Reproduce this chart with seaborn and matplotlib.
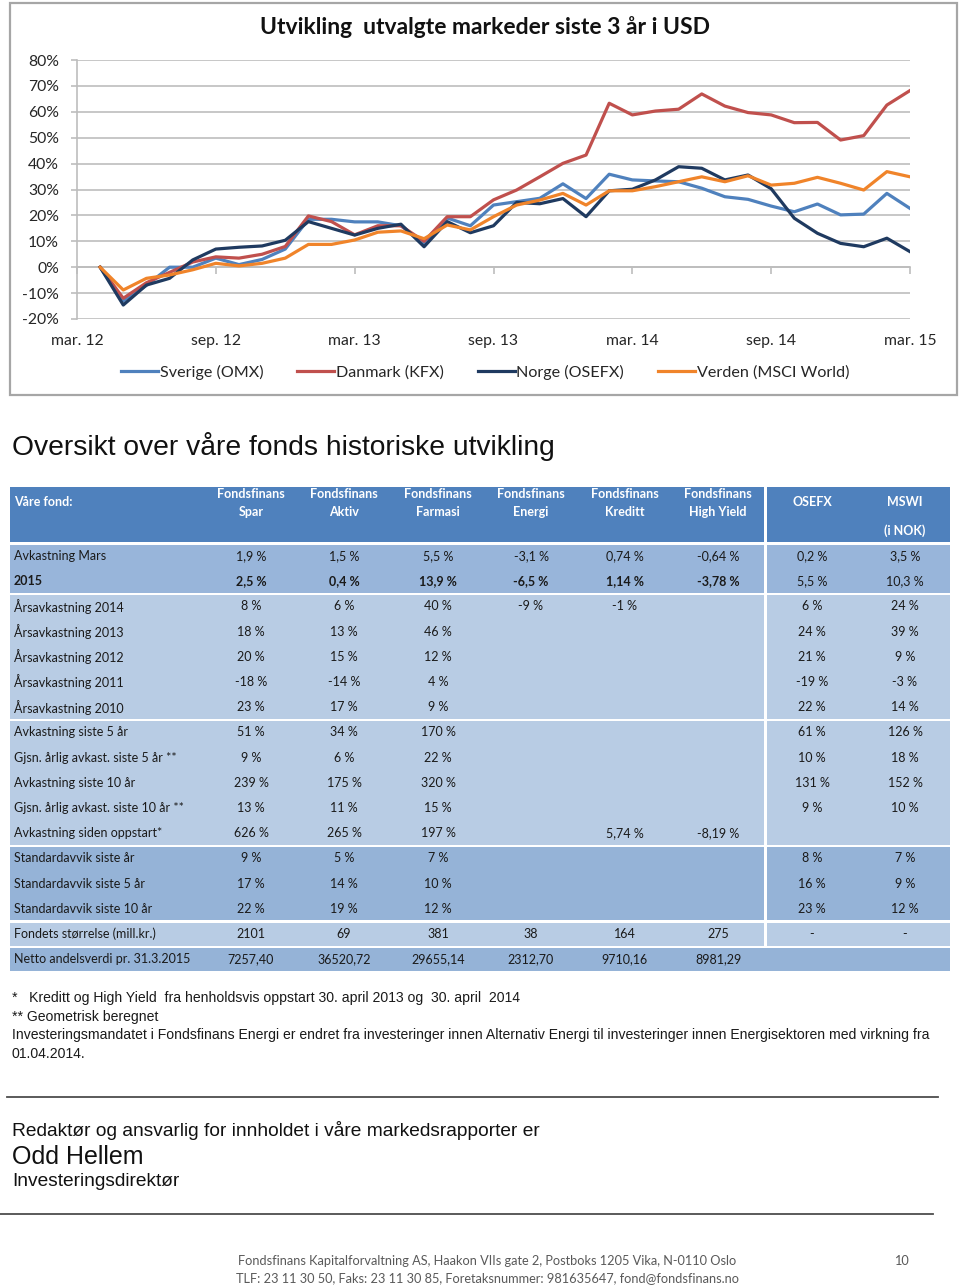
import numpy as np
import pandas as pd
import matplotlib.pyplot as plt
from matplotlib.patches import Rectangle
from matplotlib import font_manager
import seaborn as sns


# Chart data: development since mar. 12, in % (USD) ...........................

months = list(range(36))
sverige = [0, -13, -7, 0, 0, 3.5, 1, 3, 7, 18.5, 18.5, 17.5, 17.5, 16, 9, 19, 16,
           24, 25.3, 26.6, 32.2, 26.5, 35.9, 33.7, 33.3, 33, 30.5, 27.2, 26.2, 23.6,
           21.4, 24.4, 20.2, 20.5, 28.5, 22.7]
danmark = [0, -12, -6, -2, 2, 4, 3.5, 5, 8, 19.8, 17.6, 12.5, 16, 16, 10, 19.5, 19.5,
           26, 29.8, 34.9, 40.1, 43.3, 63.3, 58.8, 60.3, 61, 66.9, 62.2, 59.7, 58.8,
           55.8, 55.9, 49.1, 50.8, 62.6, 68.2]
norge = [0, -14.6, -6.9, -4.3, 2.8, 7, 7.7, 8.2, 10.4, 17.6, 15, 12.4, 15, 16.6, 7.9,
         17.6, 13.3, 16, 25, 24.5, 26.5, 19.5, 29.5, 30.1, 33.7, 38.8, 38.2, 33.7,
         35.6, 30.3, 18.9, 13.1, 9.2, 7.9, 11.2, 6.0]
verden = [0, -8.8, -4.3, -3, -1, 1.5, 0.5, 1.5, 3.5, 8.8, 8.8, 10.5, 13.5, 14, 11,
          16.3, 14.4, 19.5, 24, 25.9, 28.5, 24, 29.5, 29.5, 31.1, 33, 34.9, 33, 35.3,
          31.7, 32.4, 34.7, 32.4, 29.8, 36.9, 34.9]

markets = ["Sverige (OMX)", "Danmark (KFX)", "Norge (OSEFX)", "Verden (MSCI World)"]
market_colors = ["#4F81BD", "#C0504D", "#1F3A60", "#F0842A"]
x_ticks = [-1, 5, 11, 17, 23, 29, 35]
x_labels = ["mar. 12", "sep. 12", "mar. 13", "sep. 13", "mar. 14", "sep. 14", "mar. 15"]
y_ticks = [-20, -10, 0, 10, 20, 30, 40, 50, 60, 70, 80]


# Table data ..................................................................

fund_names = ["Spar", "Aktiv", "Farmasi", "Energi", "Kreditt", "High Yield"]
index_names = ["OSEFX", "MSWI"]
row_labels = ["Avkastning Mars", "2015", "Årsavkastning 2014", "Årsavkastning 2013",
              "Årsavkastning 2012", "Årsavkastning 2011", "Årsavkastning 2010",
              "Avkastning siste 5 år", "Gjsn. årlig avkast. siste 5 år **",
              "Avkastning siste 10 år", "Gjsn. årlig avkast. siste 10 år **",
              "Avkastning siden oppstart*", "Standardavvik siste år",
              "Standardavvik siste 5 år", "Standardavvik siste 10 år",
              "Fondets størrelse (mill.kr.)", "Netto andelsverdi pr. 31.3.2015"]
row_values = [
    ["1,9 %", "1,5 %", "5,5 %", "-3,1 %", "0,74 %", "-0,64 %", "0,2 %", "3,5 %"],
    ["2,5 %", "0,4 %", "13,9 %", "-6,5 %", "1,14 %", "-3,78 %", "5,5 %", "10,3 %"],
    ["8 %", "6 %", "40 %", "-9 %", "-1 %", "", "6 %", "24 %"],
    ["18 %", "13 %", "46 %", "", "", "", "24 %", "39 %"],
    ["20 %", "15 %", "12 %", "", "", "", "21 %", "9 %"],
    ["-18 %", "-14 %", "4 %", "", "", "", "-19 %", "-3 %"],
    ["23 %", "17 %", "9 %", "", "", "", "22 %", "14 %"],
    ["51 %", "34 %", "170 %", "", "", "", "61 %", "126 %"],
    ["9 %", "6 %", "22 %", "", "", "", "10 %", "18 %"],
    ["239 %", "175 %", "320 %", "", "", "", "131 %", "152 %"],
    ["13 %", "11 %", "15 %", "", "", "", "9 %", "10 %"],
    ["626 %", "265 %", "197 %", "", "5,74 %", "-8,19 %", "", ""],
    ["9 %", "5 %", "7 %", "", "", "", "8 %", "7 %"],
    ["17 %", "14 %", "10 %", "", "", "", "16 %", "9 %"],
    ["22 %", "19 %", "12 %", "", "", "", "23 %", "12 %"],
    ["2101", "69", "381", "38", "164", "275", "-", "-"],
    ["7257,40", "36520,72", "29655,14", "2312,70", "9710,16", "8981,29", "", ""],
]
# row blocks: (first row, last row, colour)
row_blocks = [(0, 1, "#98B5DA"), (2, 6, "#B8CCE4"), (7, 11, "#B8CCE4"),
              (12, 14, "#95B3D7"), (15, 15, "#B8CCE4"), (16, 16, "#95B3D7")]

footnotes = [
    "*   Kreditt og High Yield  fra henholdsvis oppstart 30. april 2013 og  30. april  2014",
    "** Geometrisk beregnet",
    "Investeringsmandatet i Fondsfinans Energi er endret fra investeringer innen Alternativ Energi til investeringer innen Energisektoren med virkning fra",
    "01.04.2014.",
]
footer_lines = [
    "Fondsfinans Kapitalforvaltning AS, Haakon VIIs gate 2, Postboks 1205 Vika, N-0110 Oslo",
    "TLF: 23 11 30 50, Faks: 23 11 30 85, Foretaksnummer: 981635647, fond@fondsfinans.no",
]


# Fonts .......................................................................

installed = {f.name for f in font_manager.fontManager.ttflist}
arial_like = "Liberation Sans Narrow" if "Liberation Sans Narrow" in installed else "Liberation Sans"
plt.rcParams["font.family"] = ["Lato", "DejaVu Sans"]


# Page ........................................................................

fig = plt.figure(figsize = (9.6, 12.88), dpi = 100)
page = fig.add_axes([0, 0, 1, 1])
page.set_xlim(0, 960)
page.set_ylim(1288, 0)
page.axis("off")

# Chart frame and title
page.add_patch(Rectangle((10, 3), 947, 392, fill = False, edgecolor = "#A6A6A6", linewidth = 1.6))
page.text(485, 27, "Utvikling  utvalgte markeder siste 3 år i USD", ha = "center", va = "center",
          fontsize = 16.5, fontweight = "bold", color = "#111111")


# Line chart ..................................................................

chart = pd.DataFrame({"month": months * 4,
                      "value": sverige + danmark + norge + verden,
                      "market": np.repeat(markets, len(months))})

ax = fig.add_axes([77 / 960, 1 - 319 / 1288, 833 / 960, 259 / 1288])
ax.patch.set_alpha(0)
sns.lineplot(data = chart, x = "month", y = "value", hue = "market", hue_order = markets,
             palette = market_colors, linewidth = 2.3, ax = ax)
ax.set_xlim(-1, 35)
ax.set_ylim(-20, 80)
ax.set_yticks(y_ticks, [f"{v}%" for v in y_ticks])
ax.set_xticks(x_ticks, x_labels)
ax.set_xlabel("")
ax.set_ylabel("")
ax.yaxis.grid(True, color = "#BDBDBD", linewidth = 1.2)
ax.set_axisbelow(True)
for side in ["top", "right", "bottom"]:
    ax.spines[side].set_visible(False)
ax.spines["left"].set_color("#BDBDBD")
ax.spines["left"].set_linewidth(1.2)
ax.tick_params(axis = "y", length = 4, color = "#BDBDBD", width = 1.2, pad = 9,
               labelsize = 11.3, labelcolor = "#262626")
ax.tick_params(axis = "x", length = 0, pad = 11, labelsize = 11.3, labelcolor = "#262626")

# tick marks on the 0% line
zero_axis = ax.secondary_xaxis(0.2)
zero_axis.set_xticks(x_ticks, [""] * len(x_ticks))
zero_axis.tick_params(length = 5, width = 1.2, color = "#BDBDBD")
zero_axis.spines["bottom"].set_color("#BDBDBD")
zero_axis.spines["bottom"].set_linewidth(1.2)

sns.move_legend(ax, "center", bbox_to_anchor = (0.49, -0.205), ncol = 4, frameon = False,
                title = None, fontsize = 11.6, handlelength = 2.3, handletextpad = 0.1,
                columnspacing = 2.1)
for text in ax.get_legend().get_texts():
    text.set_color("#262626")
for line in ax.get_legend().get_lines():
    line.set_linewidth(2.3)


# Table .......................................................................

page.text(12, 446, "Oversikt over våre fonds historiske utvikling", va = "center",
          fontsize = 20.3, family = "Liberation Sans", color = "#111111")

col_x = [251, 344, 438, 531, 625, 718, 812, 905]
row_y = [556 + 25.2 * i for i in range(len(row_labels))]
left, split, right = 10, 765, 950

# Header
page.add_patch(Rectangle((left, 487), split - 1.5 - left, 55, color = "#4F81BD", lw = 0))
page.add_patch(Rectangle((split + 1.5, 487), right - split - 1.5, 55, color = "#4F81BD", lw = 0))
header_font = dict(color = "white", fontweight = "bold", fontsize = 9, va = "center")
page.text(14, 502, "Våre fond:", **header_font)
for x, name in zip(col_x, fund_names):
    page.text(x, 494, "Fondsfinans", ha = "center", **header_font)
    page.text(x, 512, name, ha = "center", **header_font)
for x, name in zip(col_x[6:], index_names):
    page.text(x, 502, name, ha = "center", **header_font)
page.text(col_x[7], 531, "(i NOK)", ha = "center", **header_font)

# Row fills
for first, last, color in row_blocks:
    top = row_y[first] - 11.5
    height = row_y[last] - row_y[first] + 23
    if last == len(row_labels) - 1:
        page.add_patch(Rectangle((left, top), right - left, height, color = color, lw = 0))
    else:
        page.add_patch(Rectangle((left, top), split - 1.5 - left, height, color = color, lw = 0))
        page.add_patch(Rectangle((split + 1.5, top), right - split - 1.5, height, color = color, lw = 0))

# Row texts
for i, (label, values) in enumerate(zip(row_labels, row_values)):
    bold = label == "2015"
    page.text(14, row_y[i], label, va = "center", fontsize = 9, color = "#1A1A1A",
              fontweight = "bold" if bold else "normal")
    for j, (x, value) in enumerate(zip(col_x, values)):
        page.text(x, row_y[i], value, ha = "center", va = "center", fontsize = 9,
                  color = "#1A1A1A", fontweight = "bold" if bold and j < 6 else "normal")


# Notes and footer ............................................................

for k, note in enumerate(footnotes):
    page.text(12, 998 + 18.7 * k, note, va = "center", fontsize = 10.05, family = arial_like,
              color = "#1A1A1A")

page.plot([7, 938], [1097, 1097], color = "#4D4D4D", linewidth = 1.3)
page.text(12, 1131, "Redaktør og ansvarlig for innholdet i våre markedsrapporter er", va = "center",
          fontsize = 13.8, family = arial_like, color = "#111111")
page.text(12, 1157, "Odd Hellem", va = "center", fontsize = 18, family = arial_like, color = "#111111")
page.text(12, 1182, "Investeringsdirektør", va = "center", fontsize = 13.8, family = arial_like,
          color = "#111111")
page.plot([0, 933], [1214, 1214], color = "#4D4D4D", linewidth = 1.3)

for k, line in enumerate(footer_lines):
    page.text(487, 1261 + 17 * k, line, ha = "center", va = "center", fontsize = 9.2, color = "#595959")
page.text(901, 1261, "10", ha = "center", va = "center", fontsize = 9.2, color = "#595959")

fig.savefig("out.png", dpi = 100)
